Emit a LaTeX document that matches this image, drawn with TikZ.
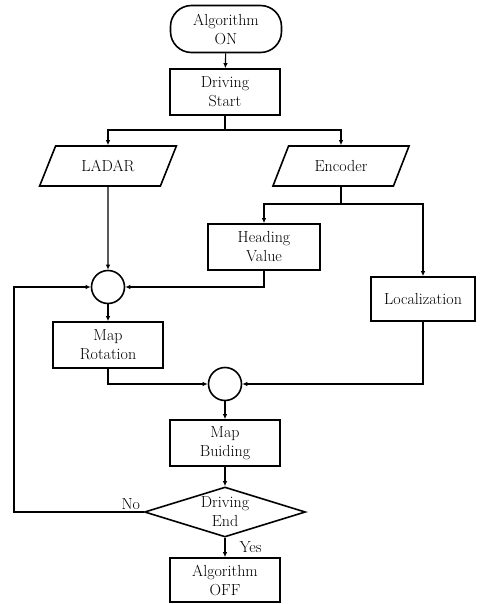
\documentclass[tikz,border=0pt]{standalone}
\usepackage{tikz}
\usetikzlibrary{arrows.meta,positioning,shapes.geometric}
\tikzset{
  base/.style={draw, line width=1.6pt, align=center, font=\fontsize{16}{19}\selectfont, inner sep=0pt},
  termbox/.style={base, rounded corners=21pt, minimum width=111pt, minimum height=47pt},
  procbox/.style={base, minimum width=110pt, minimum height=46pt},
  iobox/.style={base, trapezium, trapezium left angle=55, trapezium right angle=125,
                trapezium stretches=true, minimum width=137pt, minimum height=40pt},
  decbox/.style={base, diamond, minimum width=161pt, minimum height=50pt},
  sumnode/.style={base, circle, minimum size=33pt},
  lbl/.style={font=\fontsize{16}{19}\selectfont, inner sep=2pt},
  arrow/.style={-{Latex[length=5pt,width=4.5pt]}, line width=1.1pt},
  line/.style={line width=1.1pt}
}
\begin{document}
\begin{tikzpicture}[x=1pt, y=-1pt]
\useasboundingbox (0,0) rectangle (481,604);
% flow blocks
\node[termbox] (algon) at (226,29) {Algorithm\\ON};
\node[procbox] (dstart) at (225,92) {Driving\\Start};
\node[iobox] (ladar) at (108,166) {LADAR};
\node[iobox] (enc) at (341,166) {Encoder};
\node[procbox, minimum width=112pt] (head) at (264,247) {Heading\\Value};
\node[procbox, minimum width=104pt, minimum height=44pt] (loc) at (423,299) {Localization};
\node[sumnode] (sum1) at (108,287) {};
\node[procbox] (maprot) at (108,345) {Map\\Rotation};
\node[sumnode] (sum2) at (225,384) {};
\node[procbox] (mapbuild) at (225,443) {Map\\Buiding};
\node[decbox, label={[lbl, align=center]center:Driving\\End}] (dend) at (225,512) {};
\node[procbox, minimum height=44pt] (algoff) at (225,580) {Algorithm\\OFF};
% junctions
\coordinate (split1) at (225,130);
\coordinate (split2) at (341,204);
\coordinate (back) at (14,512);
% connectors
\draw[arrow] (algon) -- (dstart);
\draw[line] (dstart) -- (split1);
\draw[arrow] (split1) -| (ladar);
\draw[arrow] (split1) -| (enc);
\draw[line] (enc) -- (split2);
\draw[arrow] (split2) -| (head);
\draw[arrow] (split2) -| (loc);
\draw[arrow] (ladar) -- (sum1);
\draw[arrow] (head) |- (sum1);
\draw[arrow] (sum1) -- (maprot);
\draw[arrow] (maprot) |- (sum2);
\draw[arrow] (loc) |- (sum2);
\draw[arrow] (sum2) -- (mapbuild);
\draw[arrow] (mapbuild) -- (dend);
\draw[arrow] (dend) -- node[lbl, right, xshift=12pt]{Yes} (algoff);
\draw[arrow] (dend.west) -- node[lbl, above, pos=0.1]{No} (back) |- (sum1);
\end{tikzpicture}
\end{document}
